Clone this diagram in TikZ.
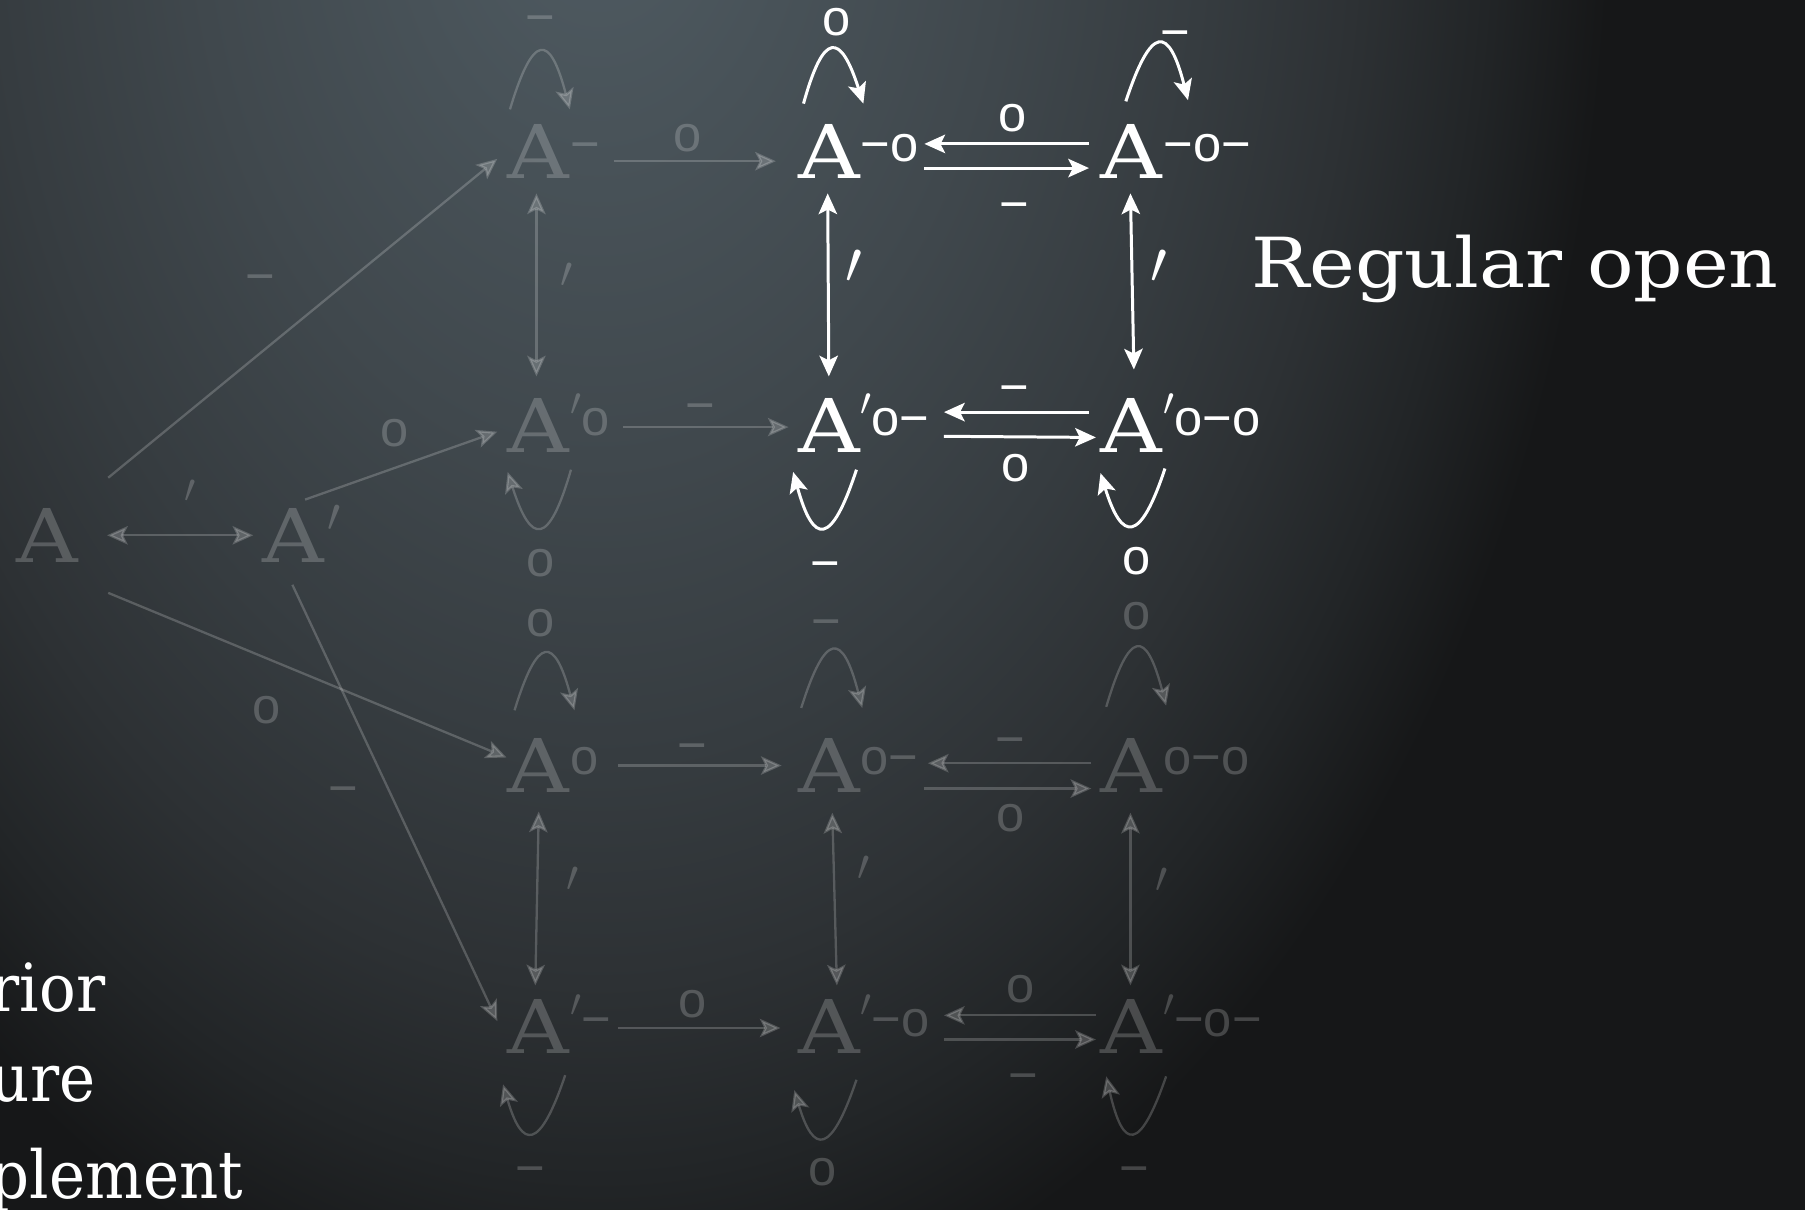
\documentclass[tikz,border=0pt]{standalone}
\usepackage{fontspec}
\usepackage{graphicx}
\usetikzlibrary{arrows.meta,calc}
\newfontfamily\Aserf[FakeStretch=1.15]{DejaVu Serif}
\newfontfamily\tserf[FakeStretch=1.12]{DejaVu Serif}
\newfontfamily\bserf[FakeStretch=0.92]{DejaVu Serif}
\newfontfamily\sanf{Liberation Sans}
\definecolor{bgA}{HTML}{505C63}
\definecolor{bgB}{HTML}{40484D}
\definecolor{bgC}{HTML}{363C40}
\definecolor{bgD}{HTML}{2D3134}
\definecolor{bgE}{HTML}{222527}
\definecolor{bgF}{HTML}{161718}
\pgfdeclareradialshading{bgrad}{\pgfpoint{0bp}{0bp}}{color(0bp)=(bgA); color(10bp)=(bgB); color(15bp)=(bgC); color(18.75bp)=(bgD); color(22bp)=(bgE); color(25bp)=(bgF); color(50bp)=(bgF)}
\newcommand\spr{\raisebox{8.5pt}{\fontsize{10pt}{10pt}\selectfont\scalebox{1.7}{$\prime$}}}
\newcommand\myloop[8]{%
 \pgfmathsetmacro\lpw{#7-(#3)}%
 \pgfmathsetmacro\lpd{((8*(#5)-(#3)-(#7))/3-(#3)-(#7))/2}%
 \pgfmathsetmacro\lpxa{#3+0.36*\lpw+\lpd}%
 \pgfmathsetmacro\lpxb{#7-0.36*\lpw+\lpd}%
 \pgfmathsetmacro\lpyc{(8*(#6)-(#4)-(#8))/6}%
 \draw[#1] ($(#2.base)+(#3,#4)$) .. controls ($(#2.base)+(\lpxa,\lpyc)$) and ($(#2.base)+(\lpxb,\lpyc)$) .. ($(#2.base)+(#7,#8)$);}
\begin{document}
\begin{tikzpicture}[x=0.5pt,y=-0.5pt,
  >={Stealth[length=9pt,width=8pt,inset=2pt]},
  fd/.style={text=white,text opacity=0.2},
  wt/.style={text=white},
  anode/.style={inner sep=0pt,outer sep=0pt,anchor=base,font=\Aserf\fontsize{32.2pt}{32.2pt}\selectfont},
  snode/.style={inner sep=0pt,outer sep=0pt,anchor=base west,font=\sanf\fontsize{22pt}{22pt}\selectfont},
  olab/.style={inner sep=0pt,outer sep=0pt,anchor=center,font=\sanf\fontsize{22pt}{22pt}\selectfont},
  mlab/.style={inner sep=0pt,outer sep=0pt,anchor=base,font=\sanf\fontsize{22pt}{22pt}\selectfont},
  plab/.style={inner sep=0pt,outer sep=0pt,anchor=center},
  fl/.style={draw=white,draw opacity=0.2,fill opacity=0.2,line width=1pt},
  wl/.style={draw=white,line width=1.3pt},
  bigtext/.style={inner sep=0pt,outer sep=0pt,anchor=base west,text=white,font=\tserf\fontsize{30pt}{30pt}\selectfont},
  sidetext/.style={inner sep=0pt,outer sep=0pt,anchor=base west,text=white,font=\bserf\fontsize{28.8pt}{28.8pt}\selectfont}]
\useasboundingbox (0,0) rectangle (1568,1051);
\clip (0,0) rectangle (1568,1051);
\fill[bgF] (0,0) rectangle (1568,1051);
\shade[shading=bgrad] (520,-120) ellipse [x radius=440pt, y radius=650pt];

% ---- nodes ----
\node[anode,fd] (nA) at (41,489) {A};
\node[anode,fd] (nAp) at (255,489) {A};
\node[plab,fd,anchor=base west] (nAps) at ($(nAp.base east)+(3,-27)$) {\scalebox{2.05}{$\prime$}};

\node[anode,fd] (n11) at (468,155) {A};
\node[snode,fd] (s11) at ($(n11.base east)+(1,-15)$) {−};
\node[anode,wt] (n12) at (720,155) {A};
\node[snode,wt] (s12) at ($(n12.base east)+(1,-15)$) {−o};
\node[anode,wt] (n13) at (983,155) {A};
\node[snode,wt] (s13) at ($(n13.base east)+(1,-15)$) {−o−};

\node[anode,fd] (n21) at (468,393) {A};
\node[snode,fd] (s21) at ($(n21.base east)+(1,-15)$) {\spr o};
\node[anode,wt] (n22) at (720,393) {A};
\node[snode,wt] (s22) at ($(n22.base east)+(1,-15)$) {\spr o−};
\node[anode,wt] (n23) at (983,393) {A};
\node[snode,wt] (s23) at ($(n23.base east)+(1,-15)$) {\spr o−o};

\node[anode,fd] (n31) at (468,688) {A};
\node[snode,fd] (s31) at ($(n31.base east)+(1,-15)$) {o};
\node[anode,fd] (n32) at (720,688) {A};
\node[snode,fd] (s32) at ($(n32.base east)+(1,-15)$) {o−};
\node[anode,fd] (n33) at (983,688) {A};
\node[snode,fd] (s33) at ($(n33.base east)+(1,-15)$) {o−o};

\node[anode,fd] (n41) at (468,915) {A};
\node[snode,fd] (s41) at ($(n41.base east)+(1,-15)$) {\spr −};
\node[anode,fd] (n42) at (720,915) {A};
\node[snode,fd] (s42) at ($(n42.base east)+(1,-15)$) {\spr −o};
\node[anode,fd] (n43) at (983,915) {A};
\node[snode,fd] (s43) at ($(n43.base east)+(1,-15)$) {\spr −o−};

% ---- faded connectors ----
\draw[fl,<->] ($(nA.base)+(52,-24)$) -- ($(nAp.base)+(-35,-24)$);
\draw[fl,->] ($(nA.base)+(53,-74)$) -- ($(n11.base)+(-36,-17)$);
\draw[fl,->] ($(nAp.base)+(10,-55)$) -- ($(n21.base)+(-36,-18)$);
\draw[fl,->] ($(nA.base)+(53,26)$) -- ($(n31.base)+(-28,-30)$);
\draw[fl,->] ($(nAp.base)+(-1,19)$) -- ($(n41.base)+(-36,-28)$);
\draw[fl,->] ($(n11.base)+(65,-15)$) -- ($(n12.base)+(-46,-15)$);
\draw[fl,->] ($(n21.base)+(73,-22)$) -- ($(n22.base)+(-35,-22)$);
\draw[fl,->] ($(n31.base)+(69,-23)$) -- ($(n32.base)+(-41,-23)$);
\draw[fl,->] ($(n41.base)+(69,-22)$) -- ($(n42.base)+(-42,-22)$);
\draw[fl,<->] ($(n11.base)+(-2,13)$) -- ($(n21.base)+(-2,-66)$);
\draw[fl,<->] ($(n31.base)+(0,17)$) -- ($(n41.base)+(-3,-59)$);
\draw[fl,<->] ($(n32.base)+(3,18)$) -- ($(n42.base)+(7,-59)$);
\draw[fl,<->] ($(n33.base)+(-1,18)$) -- ($(n43.base)+(-1,-59)$);
\draw[fl,->] ($(n33.base)+(-35,-25)$) -- ($(n32.base)+(86,-25)$);
\draw[fl,->] ($(n32.base)+(83,-3)$) -- ($(n33.base)+(-35,-3)$);
\draw[fl,->] ($(n43.base)+(-31,-33)$) -- ($(n42.base)+(100,-33)$);
\draw[fl,->] ($(n42.base)+(100,-12)$) -- ($(n43.base)+(-31,-12)$);

\myloop{fl,->}{n11}{-25}{-60}{2}{-110}{27}{-60}
\myloop{fl,->}{n31}{-21}{-71}{6}{-120}{31}{-71}
\myloop{fl,->}{n32}{-24}{-73}{4}{-123}{29}{-73}
\myloop{fl,->}{n33}{-22}{-74}{5}{-125}{30}{-75}
\myloop{fl,->}{n21}{28}{15}{1}{65}{-27}{17}
\myloop{fl,->}{n41}{23}{19}{-6}{69}{-31}{27}
\myloop{fl,->}{n42}{24}{23}{-5}{73}{-30}{32}
\myloop{fl,->}{n43}{30}{20}{1}{69}{-22}{20}

% ---- white connectors ----
\draw[wl,<->] ($(n12.base)+(-1,13)$) -- ($(n22.base)+(0,-66)$);
\draw[wl,<->] ($(n13.base)+(-1,13)$) -- ($(n23.base)+(2,-72)$);
\draw[wl,->] ($(n13.base)+(-37,-30)$) -- ($(n12.base)+(83,-30)$);
\draw[wl,->] ($(n12.base)+(83,-9)$) -- ($(n13.base)+(-37,-9)$);
\draw[wl,->] ($(n23.base)+(-37,-35)$) -- ($(n22.base)+(100,-35)$);
\draw[wl,->] ($(n22.base)+(100,-14)$) -- ($(n23.base)+(-31,-13)$);
\myloop{wl,->}{n12}{-22}{-65}{3}{-112}{30}{-65}
\myloop{wl,->}{n13}{-5}{-67}{24}{-117}{49}{-68}
\myloop{wl,->}{n22}{24}{15}{-5}{65}{-31}{17}
\myloop{wl,->}{n23}{29}{14}{0}{63}{-27}{18}

% ---- faded labels ----
\node[olab,fd] (fo1) at (597,120) {o};
\node[olab,fd] (fo2) at (343,376) {o};
\node[olab,fd] (fo3) at (232,617) {o};
\node[olab,fd] (fo4) at (602,872) {o};
\node[olab,fd] (fo5) at (878,711) {o};
\node[olab,fd] (fo6) at (887,859) {o};
\node[olab,fd] (fo7) at (470,489) {o};
\node[olab,fd] (fo8) at (470,541) {o};
\node[olab,fd] (fo9) at (987,535) {o};
\node[olab,fd] (fo10) at (715,1018) {o};
\node[mlab,fd] (fm1) at (226,255) {−};
\node[mlab,fd] (fm2) at (298,700) {−};
\node[mlab,fd] (fm3) at (608,367) {−};
\node[mlab,fd] (fm4) at (601,662) {−};
\node[mlab,fd] (fm5) at (878,657) {−};
\node[mlab,fd] (fm6) at (889,949) {−};
\node[mlab,fd] (fm7) at (469,30) {−};
\node[mlab,fd] (fm8) at (718,555) {−};
\node[mlab,fd] (fm9) at (461,1030) {−};
\node[mlab,fd] (fm10) at (985,1030) {−};
\node[plab,fd] (fp1) at (165,427) {\scalebox{1.75}{$\prime$}};
\node[plab,fd] (fp2) at (492,239) {\scalebox{1.9}{$\prime$}};
\node[plab,fd] (fp3) at (497,764) {\scalebox{1.9}{$\prime$}};
\node[plab,fd] (fp4) at (750,754) {\scalebox{1.9}{$\prime$}};
\node[plab,fd] (fp5) at (1009,765) {\scalebox{1.9}{$\prime$}};

% ---- white labels ----
\node[olab,wt] (wo1) at (880,103) {o};
\node[olab,wt] (wo2) at (882,407) {o};
\node[olab,wt] (wo3) at (727,19) {o};
\node[olab,wt] (wo4) at (987,487) {o};
\node[mlab,wt] (wm1) at (881,192) {−};
\node[mlab,wt] (wm2) at (881,351) {−};
\node[mlab,wt] (wm3) at (1021,43) {−};
\node[mlab,wt] (wm4) at (717,504) {−};
\node[plab,wt] (wp1) at (742,232) {\scalebox{2.6}{$\prime$}};
\node[plab,wt] (wp2) at (1007,232) {\scalebox{2.6}{$\prime$}};

% ---- texts ----
\node[bigtext] (ro) at (1087,250) {Regular open};
\node[sidetext] (t1) at (-8,879) {rior};
\node[sidetext] (t2) at (-8,957) {ure};
\node[sidetext] (t3) at (-8,1041) {plement};
\end{tikzpicture}
\end{document}
